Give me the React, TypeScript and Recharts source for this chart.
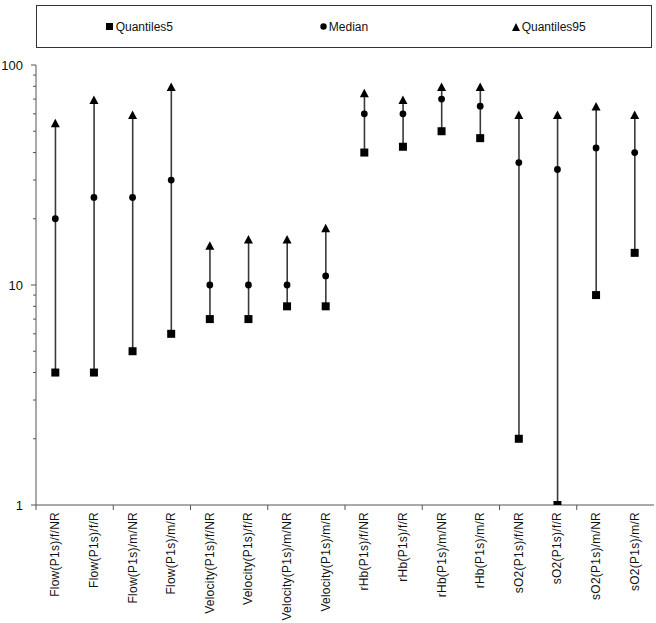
import React from 'react';
import { ComposedChart, Bar, Scatter, XAxis, YAxis } from 'recharts';

const categories = [
  'Flow(P1s)/f/NR', 'Flow(P1s)/f/R', 'Flow(P1s)/m/NR', 'Flow(P1s)/m/R',
  'Velocity(P1s)/f/NR', 'Velocity(P1s)/f/R', 'Velocity(P1s)/m/NR', 'Velocity(P1s)/m/R',
  'rHb(P1s)/f/NR', 'rHb(P1s)/f/R', 'rHb(P1s)/m/NR', 'rHb(P1s)/m/R',
  'sO2(P1s)/f/NR', 'sO2(P1s)/f/R', 'sO2(P1s)/m/NR', 'sO2(P1s)/m/R',
];
const quantiles5 = [4, 4, 5, 6, 7, 7, 8, 8, 40, 42.5, 50, 46.5, 2, 1, 9, 14];
const medians = [20, 25, 25, 30, 10, 10, 10, 11, 60, 60, 70, 65, 36, 33.5, 42, 40];
const quantiles95 = [54, 69, 59, 79, 15, 16, 16, 18, 74, 69, 79, 79, 59, 59, 64.5, 59];
const yTicks = [1, 2, 3, 4, 5, 6, 7, 8, 9, 10, 20, 30, 40, 50, 60, 70, 80, 90, 100];
const majorTicks = [1, 10, 100];

const data = categories.map((name, i) => ({
  name,
  q5: quantiles5[i],
  med: medians[i],
  q95: quantiles95[i],
  range: [quantiles5[i], quantiles95[i]],
}));

const FONT = '"Liberation Sans", Arial, sans-serif';
const BAND = 618 / 16;

const SquareShape = (p: any) => (
  <rect x={p.cx - 4} y={p.cy - 4} width={8} height={8} fill="#000" />
);
const CircleShape = (p: any) => <circle cx={p.cx} cy={p.cy} r={3.4} fill="#000" />;
const TriangleShape = (p: any) => (
  <polygon
    points={`${p.cx},${p.cy - 5} ${p.cx + 4.5},${p.cy + 3.5} ${p.cx - 4.5},${p.cy + 3.5}`}
    fill="#000"
  />
);
const RangeLine = (p: any) => {
  const cx = p.x + p.width / 2;
  return <line x1={cx} x2={cx} y1={p.y} y2={p.y + p.height} stroke="#3a3a3a" strokeWidth={1.6} />;
};

const XTick = (p: any) => {
  const { x, y, payload, index } = p;
  return (
    <g>
      {index % 2 === 0 && (
        <line x1={x - BAND / 2} x2={x - BAND / 2} y1={y} y2={y + 5} stroke="#555" />
      )}
      <text
        x={x + 4}
        y={y + 7}
        transform={`rotate(-90, ${x + 4}, ${y + 7})`}
        textAnchor="end"
        fontSize={12}
        fontFamily={FONT}
        fill="#111"
        letterSpacing={0.25}
      >
        {payload.value}
      </text>
    </g>
  );
};

const YTick = (p: any) => {
  const { x, y, payload } = p;
  const major = majorTicks.includes(payload.value);
  return (
    <g>
      <line x1={x - (major ? 5 : 3)} x2={x} y1={y} y2={y} stroke="#555" />
      {major && (
        <text x={x - 13} y={y} dy="0.36em" textAnchor="end" fontSize={13} fontFamily={FONT} fill="#111">
          {payload.value}
        </text>
      )}
    </g>
  );
};

const legendItems = [
  { label: 'Quantiles5', mark: <svg width={8} height={8}><rect x={0} y={0} width={7} height={7} fill="#000" /></svg> },
  { label: 'Median', mark: <svg width={7} height={7}><circle cx={3.5} cy={3.5} r={3.2} fill="#000" /></svg> },
  { label: 'Quantiles95', mark: <svg width={8} height={8}><polygon points="4,0 8,8 0,8" fill="#000" /></svg> },
];

export default function App() {
  return (
    <div style={{ position: 'absolute', left: 0, top: 0, width: 656, height: 623, background: '#fff', fontFamily: FONT }}>
      <div
        style={{
          position: 'absolute',
          left: 36,
          top: 5,
          width: 616,
          height: 43,
          boxSizing: 'border-box',
          border: '1px solid #333',
          display: 'flex',
          alignItems: 'center',
          fontSize: 12,
          color: '#111',
        }}
      >
        {legendItems.map((it) => (
          <div key={it.label} style={{ flex: 1, display: 'flex', justifyContent: 'center', alignItems: 'center', gap: 2 }}>
            {it.mark}
            <span>{it.label}</span>
          </div>
        ))}
      </div>
      <ComposedChart
        width={656}
        height={623}
        data={data}
        margin={{ top: 65, right: 2, bottom: 0, left: 0 }}
        barCategoryGap="40%"
      >
        <XAxis
          dataKey="name"
          interval={0}
          height={118}
          tick={<XTick />}
          tickLine={false}
          tickSize={0}
          tickMargin={0}
          axisLine={{ stroke: '#555' }}
        />
        <XAxis
          xAxisId="top"
          dataKey="name"
          orientation="top"
          height={0}
          tick={false}
          tickLine={false}
          axisLine={{ stroke: '#aaa' }}
        />
        <YAxis
          scale="log"
          domain={[1, 100]}
          ticks={yTicks}
          interval={0}
          width={36}
          allowDataOverflow
          tick={<YTick />}
          tickLine={false}
          tickSize={0}
          tickMargin={0}
          axisLine={{ stroke: '#555' }}
        />
        <YAxis
          yAxisId="right"
          orientation="right"
          width={0}
          tick={false}
          tickLine={false}
          axisLine={{ stroke: '#aaa' }}
        />
        <Bar dataKey="range" shape={<RangeLine />} isAnimationActive={false} />
        <Scatter dataKey="q5" shape={<SquareShape />} isAnimationActive={false} />
        <Scatter dataKey="med" shape={<CircleShape />} isAnimationActive={false} />
        <Scatter dataKey="q95" shape={<TriangleShape />} isAnimationActive={false} />
      </ComposedChart>
    </div>
  );
}
